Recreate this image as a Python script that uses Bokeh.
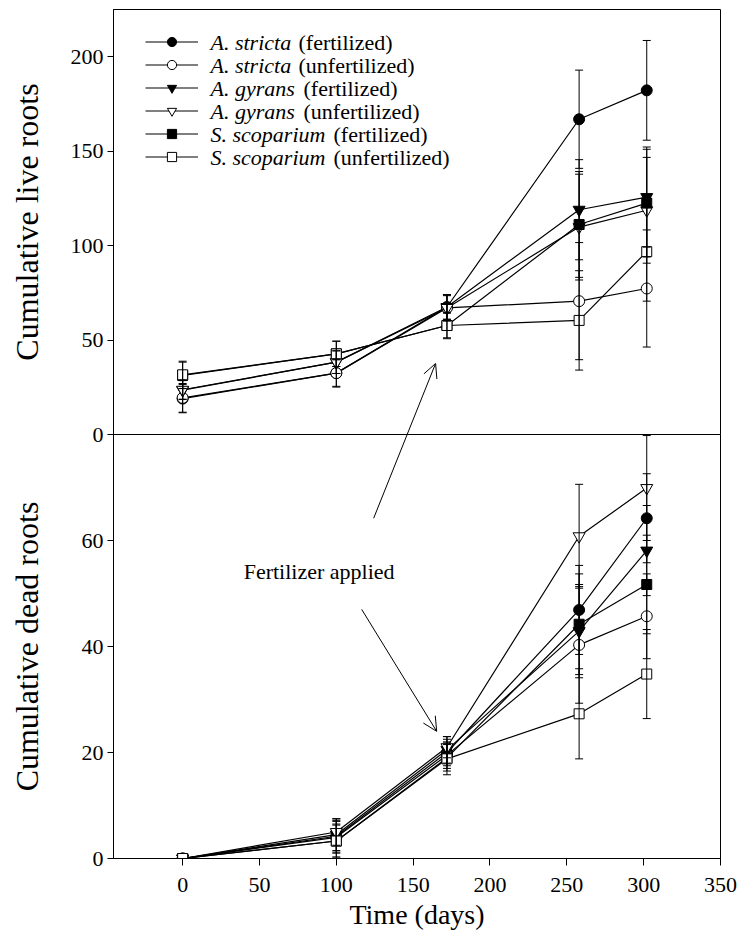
from bokeh.plotting import figure
from bokeh.models import (ColumnDataSource, Whisker, TeeHead, Legend, LegendItem, Label,
                          Arrow, OpenHead, FixedTicker, Range1d)
from bokeh.core.properties import value
from bokeh.layouts import column
from bokeh.embed import file_html
from bokeh.resources import INLINE

# ---------------- data ----------------
days = [0, 100, 172, 258, 302]

species = ["A. stricta", "A. stricta", "A. gyrans", "A. gyrans", "S. scoparium", "S. scoparium"]
treatments = ["(fertilized)", "(unfertilized)", "(fertilized)", "(unfertilized)",
              "(fertilized)", "(unfertilized)"]

# cumulative live roots (mean, SE)
live_stricta_fert = [19.0, 32.5, 67.5, 166.9, 182.2]
live_stricta_fert_se = [7.5, 7.0, 6.5, 26.0, 26.4]
live_stricta_unf = [19.4, 32.5, 67.0, 70.6, 77.3]
live_stricta_unf_se = [7.6, 7.4, 6.5, 31.0, 31.0]
live_gyrans_fert = [23.5, 38.3, 67.5, 119.0, 125.7]
live_gyrans_fert_se = [5.0, 6.0, 6.5, 26.5, 26.5]
live_gyrans_unf = [23.7, 38.3, 67.0, 109.8, 118.7]
live_gyrans_unf_se = [5.0, 6.0, 7.0, 28.0, 28.0]
live_scop_fert = [31.3, 42.7, 57.7, 111.2, 122.5]
live_scop_fert_se = [7.0, 6.7, 6.5, 28.0, 28.5]
live_scop_unf = [31.6, 42.7, 57.7, 60.4, 96.8]
live_scop_unf_se = [7.2, 6.7, 7.0, 26.3, 26.2]

# cumulative dead roots (mean, SE)
dead_stricta_fert = [0.0, 4.2, 20.0, 46.9, 64.2]
dead_stricta_fert_se = [0.0, 3.0, 2.5, 8.4, 8.4]
dead_stricta_unf = [0.0, 4.0, 19.5, 40.3, 45.7]
dead_stricta_unf_se = [0.0, 3.0, 2.5, 11.0, 8.0]
dead_gyrans_fert = [0.0, 4.5, 20.5, 42.9, 58.1]
dead_gyrans_fert_se = [0.0, 3.0, 2.5, 8.8, 8.5]
dead_gyrans_unf = [0.0, 5.0, 21.0, 60.8, 69.9]
dead_gyrans_unf_se = [0.0, 2.5, 2.0, 9.8, 9.9]
dead_scop_fert = [0.0, 3.3, 19.0, 44.2, 51.7]
dead_scop_fert_se = [0.0, 3.0, 2.5, 9.5, 9.3]
dead_scop_unf = [0.0, 3.3, 18.8, 27.3, 34.8]
dead_scop_unf_se = [0.0, 3.2, 3.0, 8.5, 8.4]

live_ticks = [0, 50, 100, 150, 200]
dead_ticks = [0, 20, 40, 60]
day_ticks = [0, 50, 100, 150, 200, 250, 300, 350]
live_max = 225
dead_max = 80

live_series = [(live_stricta_fert, live_stricta_fert_se), (live_stricta_unf, live_stricta_unf_se),
               (live_gyrans_fert, live_gyrans_fert_se), (live_gyrans_unf, live_gyrans_unf_se),
               (live_scop_fert, live_scop_fert_se), (live_scop_unf, live_scop_unf_se)]
dead_series = [(dead_stricta_fert, dead_stricta_fert_se), (dead_stricta_unf, dead_stricta_unf_se),
               (dead_gyrans_fert, dead_gyrans_fert_se), (dead_gyrans_unf, dead_gyrans_unf_se),
               (dead_scop_fert, dead_scop_fert_se), (dead_scop_unf, dead_scop_unf_se)]

# ---------------- styles ----------------
FONT = "Liberation Serif"
markers = ["circle", "circle", "inverted_triangle", "inverted_triangle", "square", "square"]
fills = ["black", "white", "black", "white", "black", "white"]
msizes = [11, 11, 12, 12, 10, 10]

x_range = Range1d(-45, 350)

common = dict(width=741, x_range=x_range, output_backend="svg", toolbar_location=None,
              min_border_left=113, min_border_right=21)

# top panel: frame 9..434, with a 12px strip below so the shared "0" label fits
top = figure(height=446, y_range=Range1d(0, live_max), x_axis_location=None,
             min_border_top=9, min_border_bottom=12, **common)
# bottom panel overlaps that strip (transparent border) so its frame starts at 434
bot = figure(height=511, y_range=Range1d(0, dead_max),
             min_border_top=0, min_border_bottom=87, margin=(-12, 0, 0, 0), **common)

for p in (top, bot):
    p.xgrid.visible = False
    p.ygrid.visible = False
    p.outline_line_color = "black"
    p.outline_line_width = 1
    p.background_fill_color = "white"
top.border_fill_color = "white"
bot.border_fill_alpha = 0


def style_y(ax, ticks, label, standoff):
    ax.ticker = FixedTicker(ticks=ticks)
    ax.axis_label = label
    ax.axis_label_text_font = FONT
    ax.axis_label_text_font_size = "32px"
    ax.axis_label_text_font_style = "normal"
    ax.axis_label_text_color = "black"
    ax.axis_label_standoff = standoff
    ax.major_label_text_font = FONT
    ax.major_label_text_font_size = "22px"
    ax.major_label_text_color = "black"
    ax.major_label_standoff = 4
    ax.major_tick_in = 0
    ax.major_tick_out = 6
    ax.minor_tick_line_color = None
    ax.axis_line_color = "black"
    ax.major_tick_line_color = "black"


style_y(top.yaxis[0], live_ticks, "Cumulative live roots", 23)
style_y(bot.yaxis[0], dead_ticks, "Cumulative dead roots", 34)

xa = bot.xaxis[0]
xa.ticker = FixedTicker(ticks=day_ticks)
xa.axis_label = "Time (days)"
xa.axis_label_text_font = FONT
xa.axis_label_text_font_size = "28px"
xa.axis_label_text_font_style = "normal"
xa.axis_label_text_color = "black"
xa.axis_label_standoff = 4
xa.major_label_text_font = FONT
xa.major_label_text_font_size = "22px"
xa.major_label_text_color = "black"
xa.major_label_standoff = 12
xa.major_tick_in = 0
xa.major_tick_out = 7
xa.minor_tick_line_color = None
xa.axis_line_color = "black"
xa.major_tick_line_color = "black"


def draw(p, series):
    out = []
    for i, (mean, se) in enumerate(series):
        src = ColumnDataSource(dict(
            x=days, y=mean,
            upper=[m + s for m, s in zip(mean, se)],
            lower=[m - s for m, s in zip(mean, se)]))
        w = Whisker(source=src, base="x", upper="upper", lower="lower", dimension="height",
                    line_color="black", line_width=1, level="glyph",
                    upper_head=TeeHead(size=8, line_color="black", line_width=1),
                    lower_head=TeeHead(size=8, line_color="black", line_width=1))
        p.add_layout(w)
        lr = p.line("x", "y", source=src, line_color="black", line_width=1.2)
        sr = p.scatter("x", "y", source=src, marker=markers[i], size=msizes[i],
                       fill_color=fills[i], line_color="black", line_width=1)
        out.append((lr, sr))
    return out


top_r = draw(top, live_series)
draw(bot, dead_series)

# ---------------- legend ----------------
items = [LegendItem(label=value(" "), renderers=[lr, sr]) for lr, sr in top_r]
legend = Legend(items=items, location=(32, 266), orientation="vertical",
                glyph_width=53, glyph_height=23, label_height=23, label_width=0,
                label_standoff=0, label_text_font_size="1px", spacing=0, padding=0,
                margin=0, border_line_color=None, background_fill_alpha=0)
top.add_layout(legend)

paren_x = {"A. stricta": 185, "A. gyrans": 190, "S. scoparium": 220}
for i, (sp, tr) in enumerate(zip(species, treatments)):
    ys = 392.5 - 23 * i
    top.add_layout(Label(x=97, y=ys, x_units="screen", y_units="screen", text=sp,
                         text_font=FONT, text_font_size="22px", text_font_style="italic",
                         text_baseline="middle", text_align="left", text_color="black"))
    top.add_layout(Label(x=paren_x[sp], y=ys, x_units="screen", y_units="screen", text=tr,
                         text_font=FONT, text_font_size="22px",
                         text_baseline="middle", text_align="left", text_color="black"))

# ---------------- annotation ----------------
top.add_layout(Arrow(x_start=146.1, y_start=0, x_end=164.6, y_end=37.6, line_width=1,
                     line_color="black",
                     end=OpenHead(size=14, line_width=1, line_color="black")))
bot.add_layout(Arrow(x_start=124.3, y_start=64.2, x_end=146.1, y_end=80, line_width=1,
                     line_color="black", end=None))
bot.add_layout(Arrow(x_start=116.5, y_start=47, x_end=165.3, y_end=24, line_width=1,
                     line_color="black",
                     end=OpenHead(size=14, line_width=1, line_color="black")))
bot.add_layout(Label(x=39.7, y=54.2, text="Fertilizer applied", text_font=FONT,
                     text_font_size="22px", text_baseline="middle", text_align="left",
                     text_color="black"))

layout = column(top, bot, spacing=0)
open("out.html", "w").write(file_html(layout, INLINE))
